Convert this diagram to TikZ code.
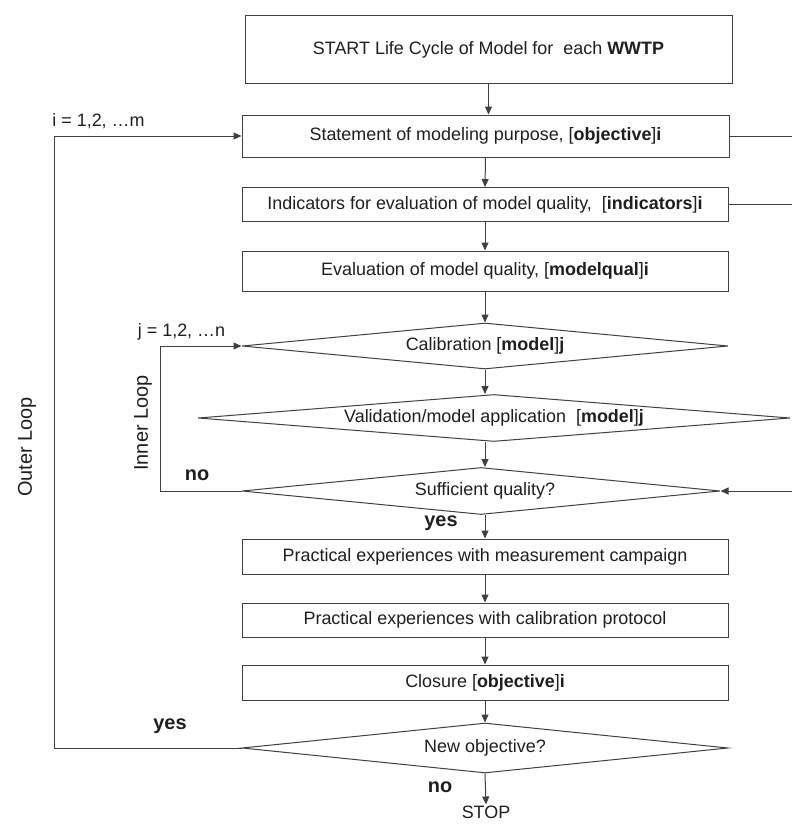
\documentclass[tikz,border=0pt]{standalone}
\usepackage{fontspec}
\setmainfont{Liberation Sans}
\usetikzlibrary{shapes.geometric,arrows.meta}
\definecolor{ln}{HTML}{404040}
\definecolor{tx}{HTML}{1E1E1E}
\begin{document}
\begin{tikzpicture}[x=1bp,y=-1bp,
  every node/.style={text=tx,font=\fontsize{18}{21}\selectfont},
  box/.style={draw=ln,line width=1bp,rectangle,inner sep=0pt,minimum width=486bp},
  dia/.style={draw=ln,line width=1bp,diamond,inner sep=0pt,aspect=1},
  arr/.style={draw=ln,line width=1bp,-{Triangle[length=8bp,width=7bp]}},
  ln/.style={draw=ln,line width=1bp},
  big/.style={font=\fontsize{20}{24}\selectfont},
  bigb/.style={font=\fontsize{20}{24}\selectfont\bfseries}]
\useasboundingbox (0,0) rectangle (792,827);
% boxes
\node[box,minimum width=487bp,minimum height=67bp] (start) at (488.5,49.5) {START Life Cycle of Model for\ \ each \textbf{WWTP}};
\node[box,minimum width=487bp,minimum height=42bp] (obj) at (485.5,136) {Statement of modeling purpose, [\textbf{objective}]\textbf{i}};
\node[box,minimum height=34bp] (ind) at (485,204.5) {Indicators for evaluation of model quality,\ \ [\textbf{indicators}]\textbf{i}};
\node[box,minimum height=40bp] (eval) at (485,271) {Evaluation of model quality, [\textbf{modelqual}]\textbf{i}};
% diamonds
\node[dia,minimum width=486bp,minimum height=46bp] (cal) at (485,346) {};
\node at (485,346) (calt) {Calibration [\textbf{model}]\textbf{j}};
\node[dia,minimum width=592bp,minimum height=47bp] (val) at (494,418) {};
\node at (494,418) (valt) {Validation/model application\ \ [\textbf{model}]\textbf{j}};
\node[dia,minimum width=478bp,minimum height=47bp] (suf) at (481,491) {};
\node at (485,491) (suft) {Sufficient quality?};
% lower boxes
\node[box,minimum height=35bp] (p1) at (485,556.5) {Practical experiences with measurement campaign};
\node[box,minimum height=34bp] (p2) at (485,620) {Practical experiences with calibration protocol};
\node[box,minimum height=35bp] (clo) at (485,682.5) {Closure [\textbf{objective}]\textbf{i}};
\node[dia,minimum width=486bp,minimum height=50bp] (new) at (485,748) {};
\node at (485,748) (newt) {New objective?};
\node[inner sep=1pt] (stop) at (486,812) {STOP};
% main flow
\draw[arr] (start.south) -- (start.south |- obj.north);
\draw[arr] (obj.south) -- (ind.north);
\draw[arr] (ind.south) -- (eval.north);
\draw[arr] (eval.south) -- (cal.north);
\draw[arr] (cal.south) -- (cal.south |- val.north);
\draw[arr] (cal.south |- val.south) -- (cal.south |- suf.north);
\draw[arr] (cal.south |- suf.south) -- (p1.north);
\draw[arr] (p1.south) -- (p2.north);
\draw[arr] (p2.south) -- (clo.north);
\draw[arr] (clo.south) -- (new.north);
\draw[arr] (new.south) -- (stop.north);
% outer loop
\coordinate (outer) at (54,748);
\draw[arr] (new.west) -- (outer) |- (obj.west);
% inner loop
\coordinate (inner) at (160,491);
\draw[arr] (suf.west) -- (inner) |- (cal.west);
% right side lines
\coordinate (r1) at (792,136);
\coordinate (r2) at (792,204.5);
\coordinate (r3) at (792,491);
\draw[ln] (obj.east) -- (r1);
\draw[ln] (ind.east) -- (r2);
\draw[arr] (r3) -- (suf.east);
% labels
\node (ilab) at (98.5,121) {i = 1,2, \dots m};
\node (jlab) at (181.5,332) {j = 1,2, \dots n};
\node[big,rotate=90] (olab) at (27,447) {Outer Loop};
\node[big,rotate=90] (ilp) at (143,423) {Inner Loop};
\node[bigb] (no1) at (197,475) {no};
\node[bigb] (yes1) at (441,523) {yes};
\node[bigb] (yes2) at (170,726) {yes};
\node[bigb] (no2) at (440,787) {no};
\end{tikzpicture}
\end{document}
